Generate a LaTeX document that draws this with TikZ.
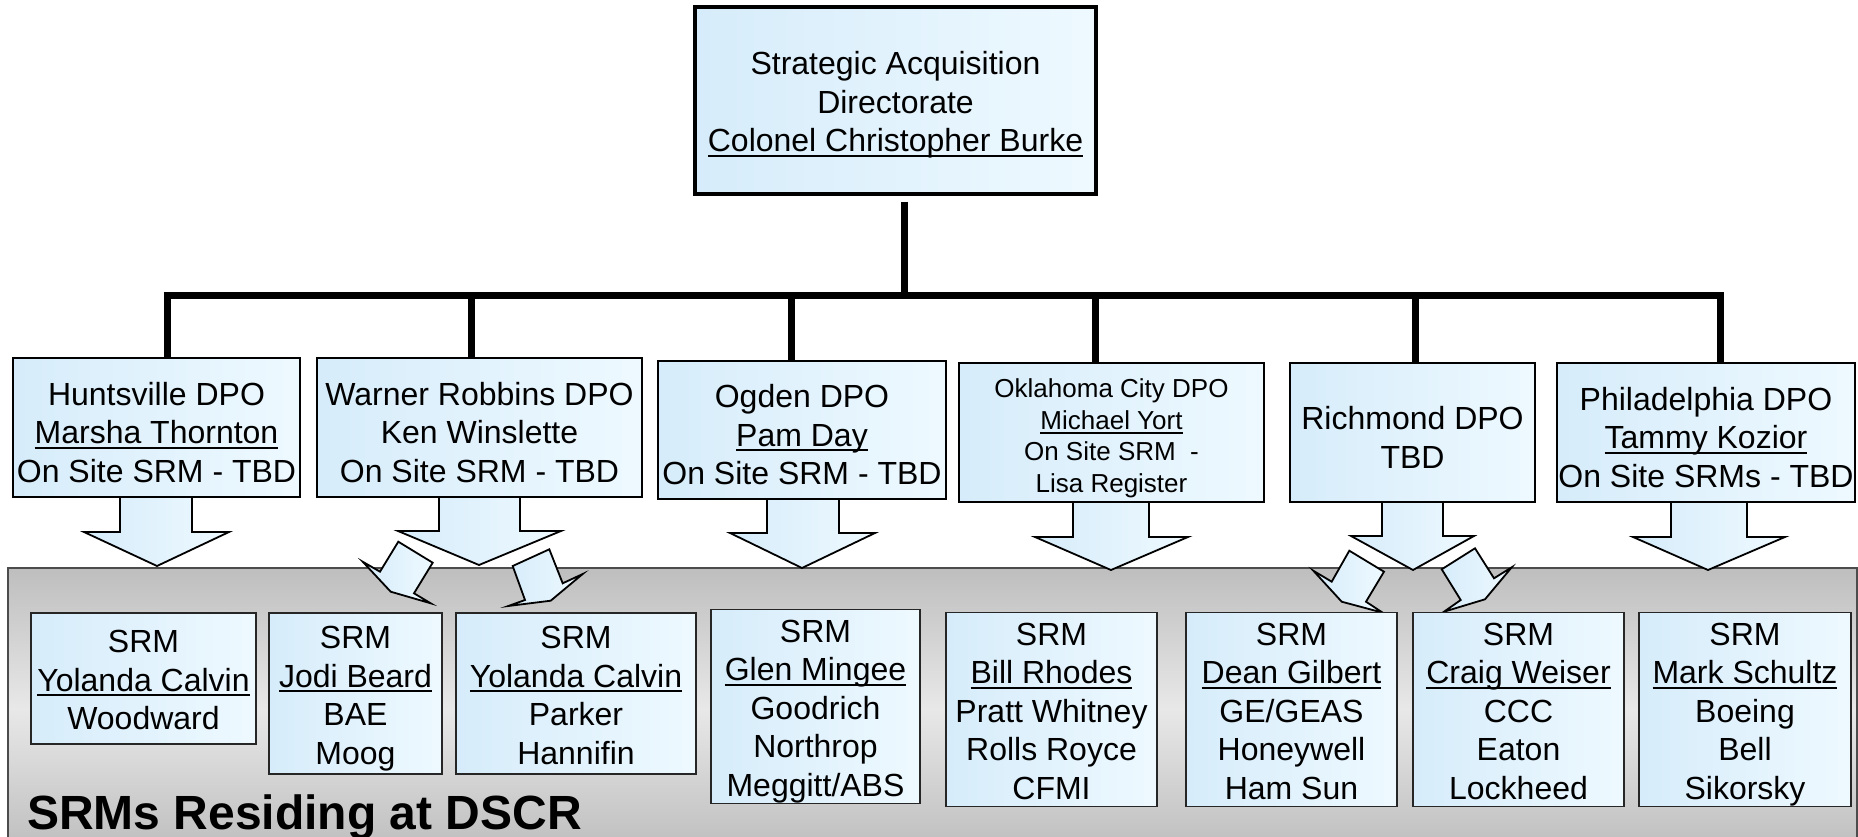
\documentclass[tikz,border=0pt]{standalone}
\usepackage{fontspec}
\setmainfont{Liberation Sans}
\usetikzlibrary{calc}
\definecolor{boxA}{RGB}{214,236,250}
\definecolor{boxB}{RGB}{238,249,255}
\definecolor{panelD}{RGB}{190,190,190}
\definecolor{panelL}{RGB}{232,232,232}
\newsavebox\nmbox
\newcommand\nm[1]{\sbox\nmbox{#1}\rlap{\rule[-5pt]{\wd\nmbox}{2pt}}\usebox\nmbox}
\newcommand\hsA{\rule{0pt}{32.9pt}}
\newcommand\hsB{\rule{0pt}{39.9pt}}
\newcommand\hsC{\rule{0pt}{32.1pt}}
\newcommand\ds{\rule[-7pt]{0pt}{0pt}}
\newcommand\barr[8]{\path[barrow] (#1,#3) -- (#1,#4) -- (#5,#4) -- (#7,#8) -- (#6,#4) -- (#2,#4) -- (#2,#3);}
\tikzset{
  org/.style={line width=7pt},
  boxbase/.style={left color=boxA, right color=boxB, inner sep=0pt, align=center, text=black},
  topbox/.style={boxbase, draw=black, line width=3.5pt, font=\fontsize{32}{38.5}\selectfont},
  dpo/.style={boxbase, draw=black, line width=2pt, font=\fontsize{32}{38.5}\selectfont},
  srm/.style={boxbase, draw=black!85, line width=1.6pt, font=\fontsize{32}{38.5}\selectfont},
  barrow/.style={draw=black, line width=1.8pt, left color=boxA, right color=boxB, line join=miter},
  sarrow/.style={draw=black, line width=1.8pt, left color=boxA, right color=boxB, line join=miter},
}
\begin{document}
\begin{tikzpicture}[x=1pt,y=-1pt]
\useasboundingbox (0,0) rectangle (1858,837);
\fill[white] (0,0) rectangle (1858,837);
% gray panel
\path[draw=black!70, line width=1.5pt, top color=panelD, bottom color=panelD, middle color=panelL] (8,568) rectangle (1857,850);
% main block arrows
\barr{120}{192}{490}{532}{84}{229}{157}{566}
\barr{439}{520}{490}{531}{398}{561}{479}{565}
\barr{767}{839}{490}{533}{730}{875}{802}{568}
\barr{1073}{1149}{495}{537}{1035}{1188}{1111}{570}
\barr{1382}{1443}{495}{536}{1351}{1474}{1413}{570}
\barr{1671}{1747}{495}{537}{1633}{1785}{1708}{570}
% small arrows
\path[sarrow] (398.3,541.7) -- (432.7,562.7) -- (414,593.3) -- (430.7,603.3) -- (390.7,591.7) -- (362.7,561.7) -- (380,571.7) -- cycle;
\path[sarrow] (549.3,549.3) -- (512.7,566) -- (525,600) -- (508.3,606) -- (550.7,600.7) -- (582.7,574) -- (562.7,583.3) -- cycle;
\path[sarrow] (1349.3,550.7) -- (1384,571.7) -- (1366,601.7) -- (1382.7,612.7) -- (1341.7,601.7) -- (1313.3,570.7) -- (1331.7,581.7) -- cycle;
\path[sarrow] (1475,548.3) -- (1441.7,569.3) -- (1460.7,600) -- (1444,611.7) -- (1485,599.3) -- (1511.7,567.3) -- (1494,578.3) -- cycle;
% top box
\node[topbox, minimum width=401pt, minimum height=187pt] (top) at (895.5,100.5) {\hsA Strategic Acquisition\\Directorate\\\nm{Colonel Christopher Burke}\ds};
% DPO boxes
\node[dpo, minimum width=287pt, minimum height=139pt] (hunt) at (156.5,427.5) {\hsB Huntsville DPO\\\nm{Marsha Thornton}\\On Site SRM - TBD\ds};
\node[dpo, minimum width=325pt, minimum height=139pt] (warner) at (479.5,427.5) {\hsB Warner Robbins DPO\\Ken Winslette\\On Site SRM - TBD\ds};
\node[dpo, minimum width=288pt, minimum height=138pt] (ogden) at (802,430) {\hsB Ogden DPO\\\nm{Pam Day}\\On Site SRM - TBD\ds};
\node[dpo, minimum width=305pt, minimum height=139pt, font=\fontsize{26}{31.5}\selectfont] (okla) at (1111.5,432.5) {\hsC Oklahoma City DPO\\\nm{Michael Yort}\\On Site SRM\ \ -\\Lisa Register\ds};
\node[dpo, minimum width=245pt, minimum height=139pt] (rich) at (1412.5,432.5) {\hsB Richmond DPO\\TBD\ds};
\node[dpo, minimum width=298pt, minimum height=139pt] (phil) at (1706,432.5) {\hsB Philadelphia DPO\\\nm{Tammy Kozior}\\On Site SRMs - TBD\ds};
% SRM boxes
\node[srm, minimum width=225pt, minimum height=131pt] (s1) at (143.5,678.5) {\hsA SRM\\\nm{Yolanda Calvin}\\Woodward\ds};
\node[srm, minimum width=173pt, minimum height=161pt] (s2) at (355.5,693.5) {\hsA SRM\\\nm{Jodi Beard}\\BAE\\Moog\ds};
\node[srm, minimum width=240pt, minimum height=161pt] (s3) at (576,693.5) {\hsA SRM\\\nm{Yolanda Calvin}\\Parker\\Hannifin\ds};
\node[srm, minimum width=209pt, minimum height=193pt] (s4) at (815.5,706.5) {\hsA SRM\\\nm{Glen Mingee}\\Goodrich\\Northrop\\Meggitt/ABS\ds};
\node[srm, minimum width=211pt, minimum height=193pt] (s5) at (1051.5,709.5) {\hsA SRM\\\nm{Bill Rhodes}\\Pratt Whitney\\Rolls Royce\\CFMI\ds};
\node[srm, minimum width=211pt, minimum height=193pt] (s6) at (1291.5,709.5) {\hsA SRM\\\nm{Dean Gilbert}\\GE/GEAS\\Honeywell\\Ham Sun\ds};
\node[srm, minimum width=211pt, minimum height=193pt] (s7) at (1518.5,709.5) {\hsA SRM\\\nm{Craig Weiser}\\CCC\\Eaton\\Lockheed\ds};
\node[srm, minimum width=212pt, minimum height=193pt] (s8) at (1745,709.5) {\hsA SRM\\\nm{Mark Schultz}\\Boeing\\Bell\\Sikorsky\ds};
% panel label
\node[anchor=base west, inner sep=0pt, font=\bfseries\fontsize{48}{52}\selectfont] (lbl) at (27,829) {SRMs Residing at DSCR};
% org lines
\coordinate (tj) at (904,295);
\coordinate (bL) at (163.5,295);
\coordinate (bR) at (1723.5,295);
\draw[org] ($(tj |- top.south)+(0,6)$) -- (tj);
\draw[org] (bL) -- (bR);
\foreach \n/\x in {hunt/167, warner/471, ogden/791, okla/1095, rich/1415, phil/1720} {
  \coordinate (d\n) at (\x,295);
  \draw[org] (d\n) -- (d\n |- \n.north);
}
\end{tikzpicture}
\end{document}
